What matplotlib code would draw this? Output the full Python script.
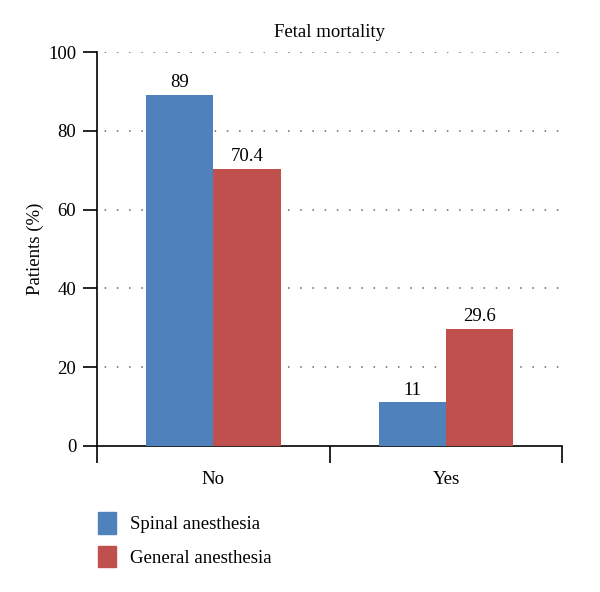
import numpy as np
import matplotlib
matplotlib.use("Agg")
import matplotlib.pyplot as plt
from matplotlib.patches import Patch

plt.rcParams["font.family"] = ["Liberation Serif", "DejaVu Serif"]

categories = ["No", "Yes"]
spinal = [89, 11]
general = [70.4, 29.6]
series_names = ["Spinal anesthesia", "General anesthesia"]
colors = ["#4F81BD", "#C0504D"]

fig = plt.figure(figsize=(6.0, 5.92), dpi=100)
ax = fig.add_axes([0.162, 0.247, 0.775, 0.665])

x = np.arange(len(categories))
w = 0.29
for vals, off, c in [(spinal, -w / 2, colors[0]), (general, w / 2, colors[1])]:
    bars = ax.bar(x + off, vals, width=w, color=c, zorder=3)
    for b, v in zip(bars, vals):
        ax.text(b.get_x() + b.get_width() / 2, v + 1.0, f"{v:g}",
                ha="center", va="bottom", fontsize=13.5)

ax.set_xlim(-0.5, 1.5)
ax.set_ylim(0, 100)
ax.set_yticks([0, 20, 40, 60, 80, 100])
ax.tick_params(axis="y", direction="out", length=10, width=1.2, labelsize=13.5, pad=5)
for yv in [20, 40, 60, 80, 100]:
    ax.axhline(yv, color="#666666", lw=1.1, ls=(3, (1, 7)), zorder=1)

ax.set_xticks(x)
ax.set_xticklabels(categories, fontsize=13.5)
ax.tick_params(axis="x", which="major", length=0, pad=18)
ax.set_xticks([-0.5, 0.5, 1.5], minor=True)
ax.tick_params(axis="x", which="minor", direction="out", length=12, width=1.2)

for s in ["top", "right"]:
    ax.spines[s].set_visible(False)
ax.spines["left"].set_linewidth(1.2)
ax.spines["bottom"].set_linewidth(1.2)

ax.set_ylabel("Patients (%)", fontsize=13.5, labelpad=3)
ax.set_title("Fetal mortality", fontsize=13.5, pad=11)

handles = [Patch(color=c) for c in colors]
fig.legend(handles, series_names, loc="upper left", bbox_to_anchor=(0.151, 0.147),
           frameon=False, fontsize=13.5, handlelength=0.95, handleheight=1.35,
           handletextpad=0.75, labelspacing=0.68, borderaxespad=0)

fig.savefig("out.png", dpi=100)
